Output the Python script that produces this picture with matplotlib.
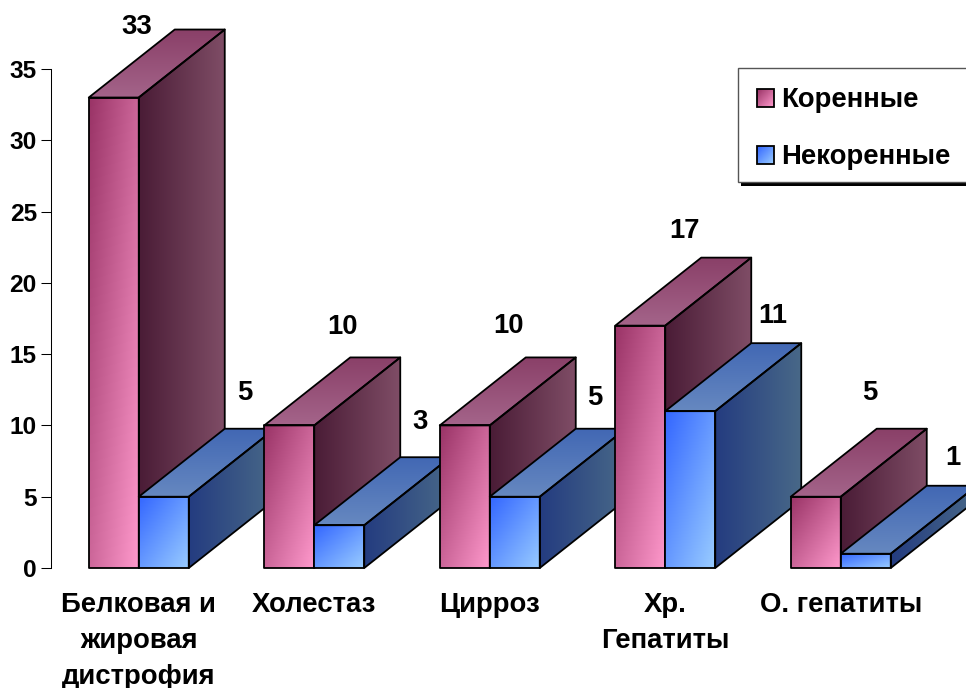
import numpy as np
import matplotlib
matplotlib.use('Agg')
import matplotlib.pyplot as plt
from matplotlib.colors import to_rgb
from matplotlib.patches import Polygon, Rectangle

plt.rcParams['font.family'] = ['Liberation Sans', 'DejaVu Sans']
plt.rcParams['font.weight'] = 'bold'

# --- DATA ---
categories = ['Белковая и\nжировая\nдистрофия', 'Холестаз', 'Цирроз', 'Хр.\nГепатиты', 'О. гепатиты']
korennye = [33, 10, 10, 17, 5]
nekorennye = [5, 3, 5, 11, 1]
y_ticks = [0, 5, 10, 15, 20, 25, 30, 35]

# --- STYLE ---
W, H = 966, 688
bar_w = 50 / 175.5        # one bar, in category units
depth_x = 86 / 175.5      # 3D offset, category units
depth_y = 68 / (499 / 35)  # 3D offset, value units
font_size = 27.5 * 72 / 100
tick_size = 24.5 * 72 / 100

pink = {'front': ('#993366', '#ff99cc'), 'top': ('#8a4068', '#a4648a'), 'side': ('#4a1c36', '#7f4d66')}
blue = {'front': ('#3366ff', '#99ccff'), 'top': ('#4268b4', '#6688c0'), 'side': ('#243c80', '#486888')}

# label offsets from the front-face top centre, in pixels
pink_label_off = [(23, 71), (53, 98), (44, 99), (44, 95), (54, 104)]
blue_label_off = [(81, 104), (81, 103), (80, 99), (82, 95), (87, 96)]

fig = plt.figure(figsize=(W / 100, H / 100), dpi=100, facecolor='white')
ax = fig.add_axes([51 / W, (H - 568) / H, 877.5 / W, 499 / H])


def gradient_poly(pts, colors, wx, wy, zorder):
    pts = np.array(pts, dtype=float)
    c0, c1 = np.array(to_rgb(colors[0])), np.array(to_rgb(colors[1]))
    u, v = np.meshgrid(np.linspace(0, 1, 80), np.linspace(0, 1, 80))
    t = (wx * u + wy * v)[..., None]
    img = c0 + (c1 - c0) * t
    poly = Polygon(pts, closed=True, facecolor='none', edgecolor='black', linewidth=1.3,
                   joinstyle='round', clip_on=False, zorder=zorder + 0.1)
    ax.add_patch(poly)
    im = ax.imshow(img, extent=[pts[:, 0].min(), pts[:, 0].max(), pts[:, 1].min(), pts[:, 1].max()],
                   origin='upper', aspect='auto', zorder=zorder, interpolation='bilinear')
    im.set_clip_path(poly)
    im.set_clip_box(fig.bbox)


def draw_bar(x0, val, colors, zorder):
    x1 = x0 + bar_w
    dx, dy = depth_x, depth_y
    gradient_poly([(x1, 0), (x1 + dx, dy), (x1 + dx, val + dy), (x1, val)], colors['side'], 1, 0, zorder)
    gradient_poly([(x0, val), (x1, val), (x1 + dx, val + dy), (x0 + dx, val + dy)], colors['top'], 0, 1, zorder)
    gradient_poly([(x0, 0), (x1, 0), (x1, val), (x0, val)], colors['front'], 0.5, 0.5, zorder)


for i in range(len(categories)):
    z = 3 + i
    draw_bar(i - bar_w, korennye[i], pink, z)
    draw_bar(i, nekorennye[i], blue, z + 0.3)
    ax.annotate(str(korennye[i]), (i - bar_w / 2, korennye[i]), xytext=pink_label_off[i],
                textcoords='offset pixels', ha='center', va='center', fontsize=font_size,
                annotation_clip=False, zorder=20)
    ax.annotate(str(nekorennye[i]), (i + bar_w / 2, nekorennye[i]), xytext=blue_label_off[i],
                textcoords='offset pixels', ha='center', va='center', fontsize=font_size,
                annotation_clip=False, zorder=20)

ax.set_xlim(-0.5, 4.5)
ax.set_ylim(0, 35)
ax.set_xticks(range(len(categories)))
ax.set_xticklabels(categories, fontsize=font_size, linespacing=1.5)
ax.tick_params(axis='x', length=0, pad=17)
ax.set_yticks(y_ticks)
ax.tick_params(axis='y', length=7.2, width=0.75, pad=3, labelsize=tick_size)
ax.patch.set_visible(False)
for side in ['top', 'right', 'bottom']:
    ax.spines[side].set_visible(False)
ax.spines['left'].set_linewidth(0.75)

# --- LEGEND (overlay in pixel coordinates) ---
leg = fig.add_axes([0, 0, 1, 1], zorder=10)
leg.set_xlim(0, W)
leg.set_ylim(H, 0)
leg.axis('off')
leg.add_patch(Rectangle((741, 72), 230, 114, facecolor='black', edgecolor='none'))
leg.add_patch(Rectangle((738, 68), 230, 114, facecolor='white', edgecolor='#555555', linewidth=1))

legend_labels = ['Коренные', 'Некоренные']
legend_colors = [pink['front'], blue['front']]
legend_y = [98, 155]
for label, cols, ly in zip(legend_labels, legend_colors, legend_y):
    u, v = np.meshgrid(np.linspace(0, 1, 20), np.linspace(0, 1, 20))
    t = ((u + v) / 2)[..., None]
    c0, c1 = np.array(to_rgb(cols[0])), np.array(to_rgb(cols[1]))
    leg.imshow(c0 + (c1 - c0) * t, extent=[757, 774, ly + 9, ly - 9], aspect='auto', zorder=3)
    leg.add_patch(Rectangle((757, ly - 9), 17, 18, facecolor='none', edgecolor='black', linewidth=1.3, zorder=4))
    leg.text(781, ly + 2, label, fontsize=font_size, ha='left', va='center', zorder=5)
leg.set_xlim(0, W)
leg.set_ylim(H, 0)

fig.savefig('out.png', dpi=100)
